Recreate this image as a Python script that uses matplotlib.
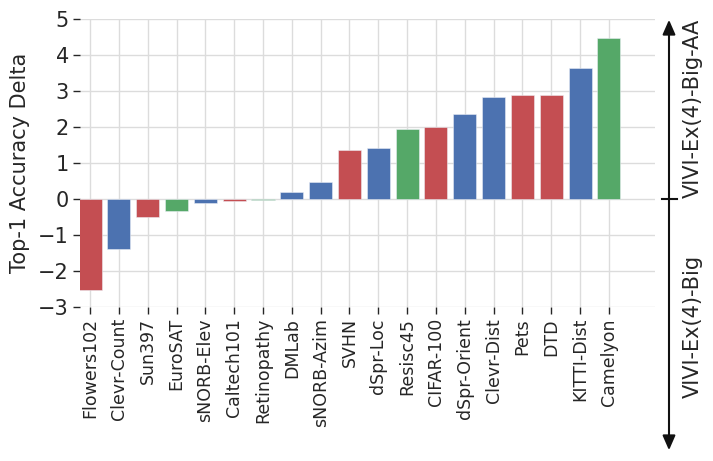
import matplotlib
matplotlib.use("Agg")
import matplotlib.pyplot as plt

categories = ["Flowers102", "Clevr-Count", "Sun397", "EuroSAT", "sNORB-Elev",
              "Caltech101", "Retinopathy", "DMLab", "sNORB-Azim", "SVHN",
              "dSpr-Loc", "Resisc45", "CIFAR-100", "dSpr-Orient", "Clevr-Dist",
              "Pets", "DTD", "KITTI-Dist", "Camelyon"]
values = [-2.53, -1.39, -0.49, -0.33, -0.10, -0.05, -0.03, 0.19, 0.48, 1.36,
          1.42, 1.95, 1.99, 2.35, 2.82, 2.88, 2.89, 3.65, 4.46]
groups = ["natural", "structured", "natural", "specialized", "structured",
          "natural", "specialized", "structured", "structured", "natural",
          "structured", "specialized", "natural", "structured", "structured",
          "natural", "natural", "structured", "specialized"]
group_colors = {"natural": "#C44E52", "structured": "#4C72B0", "specialized": "#55A868"}
yticks = [-3, -2, -1, 0, 1, 2, 3, 4, 5]
upper_label = "VIVI-Ex(4)-Big-AA"
lower_label = "VIVI-Ex(4)-Big"

text_color = "#262626"
plt.rcParams["font.family"] = ["DejaVu Sans"]

W, H = 713, 461
fig = plt.figure(figsize=(W / 100, H / 100), dpi=100)
left, right, top, bottom = 80, 655, 19, 307
ax = fig.add_axes([left / W, 1 - bottom / H, (right - left) / W, (bottom - top) / H])

x = list(range(len(categories)))
ax.bar(x, values, width=0.8, color=[group_colors[g] for g in groups],
       edgecolor=(0.93, 0.94, 0.97, 0.6), linewidth=0.6, zorder=3)

ax.set_xlim(-0.35, 19.6)
ax.set_ylim(-3, 5)
ax.set_yticks(yticks)
ax.set_xticks(x)
ax.set_xticklabels(categories, rotation=90, fontsize=12.5, color=text_color)
ax.tick_params(axis="y", labelsize=15, colors=text_color, length=5, width=1, pad=3)
ax.tick_params(axis="x", colors=text_color, length=5, width=1, pad=3)
ax.set_ylabel("Top-1 Accuracy Delta", fontsize=15, color=text_color, labelpad=6)
ax.grid(True, color="#dcdcdc", linewidth=1, zorder=0)
ax.set_axisbelow(True)
for s in ax.spines.values():
    s.set_visible(False)

# side arrow annotation (figure coordinates)
fig.canvas.draw()
zero_disp = ax.transData.transform((0, 0))[1]
zero_fig = zero_disp / H
ax_x = 669 / W
y_top = 1 - 17 / H
y_bot = 1 - 453 / H
fig.add_artist(matplotlib.patches.FancyArrowPatch(
    (ax_x, y_bot), (ax_x, y_top), transform=fig.transFigure,
    arrowstyle="<|-|>,head_length=0.8,head_width=0.35", mutation_scale=11,
    color="#111111", linewidth=1.5))
fig.add_artist(matplotlib.lines.Line2D(
    [662 / W, 677 / W], [zero_fig, zero_fig], transform=fig.transFigure,
    color="#111111", linewidth=1.5))
tx = 693 / W
fig.text(tx, (y_top + zero_fig) / 2, upper_label, rotation=90, ha="center", va="center",
         fontsize=15, color=text_color)
fig.text(tx, (y_bot + zero_fig) / 2, lower_label, rotation=90, ha="center", va="center",
         fontsize=15, color=text_color)

fig.savefig("out.png", dpi=100)
